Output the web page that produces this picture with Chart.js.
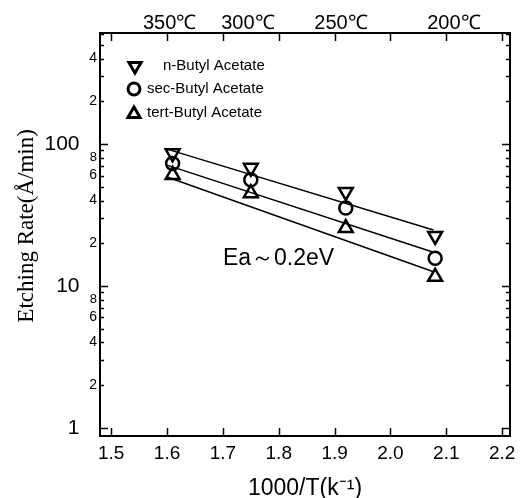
<!DOCTYPE html>
<html>
<head>
<meta charset="utf-8">
<script src="https://cdn.jsdelivr.net/npm/chart.js@4.4.0/dist/chart.umd.min.js"></script>
<style>
  html, body { margin: 0; padding: 0; background: #fff; }
</style>
</head>
<body>
<canvas id="myChart" width="529" height="498"></canvas>
<script>
// datos
const xValues = [1.61, 1.75, 1.92, 2.08];
const nButyl = [86, 68, 46, 22.5];
const secButyl = [73, 56, 35.4, 15.7];
const tertButyl = [60.5, 45, 25.6, 11.6];

// rectas de ajuste (extremos)
const fitX = [1.60, 2.077];
const nButylFit = [92, 24.8];
const secButylFit = [71, 17.3];
const tertButylFit = [58.6, 12.6];

const xTicks = [1.5, 1.6, 1.7, 1.8, 1.9, 2.0, 2.1, 2.2];
const yTicks = [1, 2, 4, 6, 8, 10, 20, 40, 60, 80, 100, 200, 400];
const yTickLabels = ['1   ', '2', '4', '6', '8', '10   ', '2', '4', '6', '8', '100   ', '2', '4'];
const tempC = [350, 300, 250, 200];
const tempLabels = ['350℃', '300℃', '250℃', '200℃'];
const seriesNames = ['n-Butyl Acetate', 'sec-Butyl Acetate', 'tert-Butyl Acetate'];

(() => {
    const ctx = document.getElementById('myChart').getContext('2d');
    const SANS = '"Liberation Sans", Arial, sans-serif';

    const toPoints = (xs, ys) => xs.map((x, i) => ({ x: x, y: ys[i] }));

    const markerSet = (label, ys, style, rot) => ({
        label: label,
        data: toPoints(xValues, ys),
        showLine: false,
        pointStyle: style,
        rotation: rot,
        pointRadius: style === 'circle' ? 6.5 : 8,
        pointBorderWidth: 2.5,
        pointBorderColor: '#000',
        pointBackgroundColor: 'rgba(255,255,255,0)',
        order: 1
    });
    const fitSet = (ys) => ({
        label: '',
        data: toPoints(fitX, ys),
        showLine: true,
        borderColor: '#000',
        borderWidth: 1.5,
        pointRadius: 0,
        fill: false,
        order: 2
    });

    // marcas hacia adentro y leyenda
    const marcas = {
        id: 'marcas',
        afterDraw(chart) {
            const c = chart.ctx;
            const a = chart.chartArea;
            const xs = chart.scales.x;
            const ys = chart.scales.y;
            c.save();
            c.strokeStyle = '#000';
            c.lineWidth = 2;
            c.beginPath();
            c.moveTo(a.right, a.top);
            c.lineTo(a.right, a.bottom);
            c.stroke();
            c.lineWidth = 1.5;
            xTicks.forEach(v => {
                const px = Math.round(xs.getPixelForValue(v)) + 0.5;
                c.beginPath();
                c.moveTo(px, a.bottom); c.lineTo(px, a.bottom - 8);
                c.moveTo(px, a.top); c.lineTo(px, a.top + 8);
                c.stroke();
            });
            [1, 10, 100].forEach(dec => {
                for (let k = 1; k <= 9; k++) {
                    const v = dec * k;
                    if (v > ys.max) continue;
                    const py = Math.round(ys.getPixelForValue(v)) + 0.5;
                    const len = k === 1 ? 8 : 4;
                    c.beginPath();
                    c.moveTo(a.left, py); c.lineTo(a.left + len, py);
                    c.moveTo(a.right, py); c.lineTo(a.right - len, py);
                    c.stroke();
                }
            });

            // leyenda
            const drawMarker = (kind, x, y, r) => {
                c.beginPath();
                if (kind === 'circle') {
                    c.arc(x, y, r * 0.85, 0, Math.PI * 2);
                } else {
                    const s = kind === 'down' ? -1 : 1;
                    c.moveTo(x, y - s * r);
                    c.lineTo(x + r * 0.87, y + s * r * 0.5);
                    c.lineTo(x - r * 0.87, y + s * r * 0.5);
                    c.closePath();
                }
                c.stroke();
            };
            c.lineWidth = 3;
            const rows = [
                { kind: 'down', mx: 135, y: 66, tx: 163 },
                { kind: 'circle', mx: 134, y: 89, tx: 147 },
                { kind: 'up', mx: 134, y: 113, tx: 147 }
            ];
            c.font = '15px ' + SANS;
            c.fillStyle = '#000';
            c.textBaseline = 'middle';
            c.textAlign = 'left';
            rows.forEach((r, i) => {
                drawMarker(r.kind, r.mx, r.y + (r.kind === 'up' ? 1 : 0), 7);
                c.fillText(seriesNames[i], r.tx, r.y);
            });

            // energia de activacion
            c.font = '23px ' + SANS;
            c.fillText('Ea～0.2eV', xs.getPixelForValue(1.70), ys.getPixelForValue(15.5));
            c.restore();
        }
    };

    new Chart(ctx, {
        type: 'scatter',
        data: {
            datasets: [
                markerSet(seriesNames[0], nButyl, 'triangle', 180),
                markerSet(seriesNames[1], secButyl, 'circle', 0),
                markerSet(seriesNames[2], tertButyl, 'triangle', 0),
                fitSet(nButylFit),
                fitSet(secButylFit),
                fitSet(tertButylFit)
            ]
        },
        options: {
            responsive: false,
            animation: false,
            devicePixelRatio: 1,
            layout: { padding: { left: 0, right: 19, top: 0, bottom: 0 } },
            plugins: { legend: { display: false }, tooltip: { enabled: false } },
            scales: {
                x: {
                    type: 'linear',
                    position: 'bottom',
                    min: 1.48,
                    max: 2.214,
                    afterBuildTicks: (s) => { s.ticks = xTicks.map(v => ({ value: v })); },
                    afterFit: (s) => { s.height = 62; },
                    grid: { display: false, drawTicks: false },
                    border: { display: true, color: '#000', width: 2 },
                    ticks: {
                        autoSkip: false,
                        maxRotation: 0,
                        padding: 6,
                        color: '#000',
                        font: { family: SANS, size: 19 },
                        callback: (v) => v.toFixed(1)
                    },
                    title: {
                        display: true,
                        text: '1000/T(k⁻¹)',
                        color: '#000',
                        font: { family: SANS, size: 23, lineHeight: 0.8 },
                        padding: { top: 0, bottom: 0 }
                    }
                },
                x2: {
                    type: 'linear',
                    position: 'top',
                    min: 1.48,
                    max: 2.214,
                    afterBuildTicks: (s) => { s.ticks = tempC.map(t => ({ value: 1000 / (t + 273.15) })); },
                    afterFit: (s) => { s.height = 33; },
                    grid: { display: false, drawTicks: false },
                    border: { display: true, color: '#000', width: 2 },
                    ticks: {
                        autoSkip: false,
                        maxRotation: 0,
                        padding: 0,
                        color: '#000',
                        font: { family: SANS, size: 20, lineHeight: 1 },
                        callback: (v, i) => tempLabels[i]
                    }
                },
                y: {
                    type: 'logarithmic',
                    position: 'left',
                    min: 0.878,
                    max: 605,
                    afterBuildTicks: (s) => { s.ticks = yTicks.map(v => ({ value: v })); },
                    afterFit: (s) => { s.width = 100; },
                    grid: { display: false, drawTicks: false },
                    border: { display: true, color: '#000', width: 2 },
                    ticks: {
                        autoSkip: false,
                        padding: 3,
                        color: '#000',
                        font: (c) => {
                            const v = c.tick ? c.tick.value : 1;
                            if (v === 1 || v === 10 || v === 100) return { family: SANS, size: 21 };
                            if (v === 8 || v === 80) return { family: SANS, size: 13 };
                            return { family: SANS, size: 14 };
                        },
                        callback: (v, i) => yTickLabels[i]
                    },
                    title: {
                        display: true,
                        text: '   Etching Rate(Å/min)',
                        color: '#000',
                        font: { family: '"Liberation Serif", "Times New Roman", serif', size: 23 },
                        padding: { top: 13, bottom: 0 }
                    }
                }
            }
        },
        plugins: [marcas]
    });
})();
</script>
</body>
</html>
